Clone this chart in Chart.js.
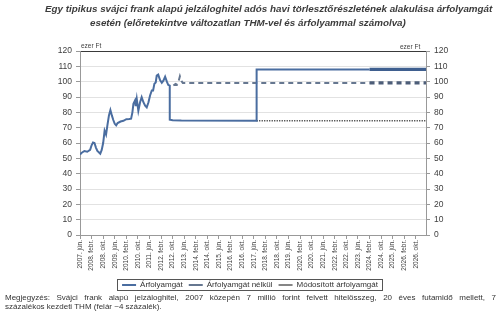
<!DOCTYPE html>
<html><head><meta charset="utf-8">
<script src="https://cdn.jsdelivr.net/npm/chart.js@4.4.0/dist/chart.umd.min.js"></script>
<style>
html,body{margin:0;padding:0;background:#fff;}
#wrap{position:relative;width:500px;height:330px;overflow:hidden;font-family:"Liberation Sans",Arial,sans-serif;}
canvas{position:absolute;left:0;top:0;}
.t{position:absolute;white-space:nowrap;color:#3c3c3c;font-style:italic;font-weight:bold;font-size:10px;line-height:12px;}
.unit{position:absolute;font-size:6.5px;color:#404040;line-height:8px;white-space:nowrap;}
.note{position:absolute;left:5px;width:491px;font-size:8px;line-height:9px;color:#333;white-space:nowrap;}
</style></head><body>
<div id="wrap">
<canvas id="c" width="500" height="330"></canvas>
<div class="t" id="t1" style="left:45px;top:3px">Egy tipikus svájci frank alapú jelzáloghitel adós havi törlesztőrészletének alakulása árfolyamgát</div>
<div class="t" id="t2" style="left:90px;top:17px">esetén (előretekintve változatlan THM-vel és árfolyammal számolva)</div>
<div class="unit" style="left:81px;top:42px">ezer Ft</div>
<div class="unit" style="left:400px;top:43px">ezer Ft</div>
<div class="note" style="top:293px;text-align:justify;text-align-last:justify;white-space:normal">Megjegyzés: Svájci frank alapú jelzáloghitel, 2007 közepén 7 millió forint felvett hitelösszeg, 20 éves futamidő mellett, 7</div>
<div class="note" style="top:302px">százalékos kezdeti THM (felár ~4 százalék).</div>
</div>
<script>
// tick labels (month index from 2007. jún.)
const tickMonths = [0,8,16,24,32,40,48,56,64,72,80,88,96,104,112,120,128,136,144,152,160,168,176,184,192,200,208,216,224,232];
const tickLabels = ['2007. jún.','2008. febr.','2008. okt.','2009. jún.','2010. febr.','2010. okt.','2011. jún.','2012. febr.','2012. okt.','2013. jún.','2014. febr.','2014. okt.','2015. jún.','2016. febr.','2016. okt.','2017. jún.','2018. febr.','2018. okt.','2019. jún.','2020. febr.','2020. okt.','2021. jún.','2022. febr.','2022. okt.','2023. jún.','2024. febr.','2024. okt.','2025. jún.','2026. febr.','2026. okt.'];

// Árfolyamgát (solid)
const gatMonths = [0,1,3,5,7,8,9,10,11,12,13,14,15,16,17,18,19,20,21,22,23,24,25,26,28,30,32,34,35.3,36.2,36.9,38,38.5,39.2,40.3,41.5,42.6,43.8,45,46.1,47.3,48.4,49.6,50.5,51.4,52.3,53,54,55.3,56.5,57.6,58.8,60,61,62,62,64,70,122,122,200,239];
const gatValues = [52.5,53.5,54.8,54.3,55.5,58.5,60.3,60,57,54.8,54,53,55.5,60,68,65.5,72,78,81.5,78,75,72.5,71.5,73,74,74.5,75.5,75.7,75.9,80,85.5,87.7,84,88.8,81,86.6,89.9,86.6,84.4,83.3,86.6,91,94.3,94.3,98.7,99.5,104,104.6,101,99.3,100.6,103.2,100,97.8,97.4,75.2,74.8,74.6,74.5,108,108,108];

// Árfolyamgát nélkül (dashed)
const nelkulMonths = [64.5,66,67,68,69,70,71,200,239];
const nelkulValues = [97.5,98.5,98,100,103.5,100.5,99.2,99.2,99.2];

// Módosított árfolyamgát (dotted)
const modMonths = [122,239];
const modValues = [74.5,74.5];

const yTicks = [0,10,20,30,40,50,60,70,80,90,100,110,120];

Chart.defaults.font.family = '"Liberation Sans", Arial, sans-serif';
const toPts = (xs, ys) => xs.map((x, i) => ({x: x, y: ys[i]}));

function fit(id, w){ const el=document.getElementById(id); const fs=parseFloat(getComputedStyle(el).fontSize); el.style.fontSize=(fs*w/el.offsetWidth)+'px'; }
fit('t1', 448); fit('t2', 316);

const legendBox = {
  id: 'legendBox',
  afterDraw(chart){
    const hb = chart.legend && chart.legend.legendHitBoxes;
    if (!hb || !hb.length) return;
    const l = Math.min(...hb.map(b=>b.left)), r = Math.max(...hb.map(b=>b.left+b.width));
    const t = Math.min(...hb.map(b=>b.top)), bt = Math.max(...hb.map(b=>b.top+b.height));
    const c = chart.ctx; c.save(); c.strokeStyle='#555'; c.lineWidth=1;
    c.strokeRect(Math.round(l-5)+0.5, Math.round(t-2)+0.5, Math.round(r-l+9), Math.round(bt-t+3));
    c.restore();
  }
};

const axisFont = {size: 8.5};
new Chart(document.getElementById('c'), {
  type: 'line',
  data: { datasets: [
    { label:'Árfolyamgát', data: toPts(gatMonths, gatValues), borderColor:'#4a6da0', borderWidth:2, pointRadius:0, tension:0, order:1,
      segment:{ borderWidth: c => c.p0.parsed.x >= 200 ? 3.2 : 2, borderColor: c => c.p0.parsed.x >= 200 ? '#3f5f8f' : '#4a6da0' } },
    { label:'Árfolyamgát nélkül', data: toPts(nelkulMonths, nelkulValues), borderColor:'#667790', borderWidth:2, borderDash:[5,4], pointRadius:0, tension:0, order:2,
      segment:{ borderWidth: c => c.p0.parsed.x >= 200 ? 3.2 : 2, borderColor: c => c.p0.parsed.x >= 200 ? '#4c5d78' : '#667790' } },
    { label:'Módosított árfolyamgát', data: toPts(modMonths, modValues), borderColor:'#444', borderWidth:1.3, borderDash:[1.2,1.3], pointRadius:0, tension:0, order:3 }
  ]},
  options: {
    responsive:false, animation:false, events:[],
    layout:{ padding:{ top:51, left:0, right:0, bottom:31 } },
    scales:{
      x:{ type:'linear', min:0, max:239,
        afterBuildTicks: s => { s.ticks = tickMonths.map(v => ({value:v})); },
        ticks:{ autoSkip:false, minRotation:90, maxRotation:90, font:{size:6.5}, color:'#404040', padding:1,
          callback: (v, i) => tickLabels[tickMonths.indexOf(v)] },
        grid:{ drawOnChartArea:false, tickLength:4, color:'#999' }, border:{ color:'#999' },
        afterFit: s => { s.height = 40; } },
      y:{ position:'left', min:0, max:120,
        afterBuildTicks: s => { s.ticks = yTicks.map(v => ({value:v})); },
        ticks:{ font:axisFont, color:'#404040', padding:4 },
        grid:{ color: c => c.tick && c.tick.value === 120 ? '#3a3a3a' : '#e2e2e2', tickColor:'#999', tickLength:4 },
        border:{ color:'#999' }, afterFit: s => { s.width = 80; } },
      y2:{ position:'right', min:0, max:120,
        afterBuildTicks: s => { s.ticks = yTicks.map(v => ({value:v})); },
        ticks:{ font:axisFont, color:'#404040', padding:4 },
        grid:{ drawOnChartArea:false, tickLength:4, color:'#999' },
        border:{ color:'#999' }, afterFit: s => { s.width = 74; } }
    },
    plugins:{
      legend:{ position:'bottom', labels:{ usePointStyle:true, pointStyle:'line', pointStyleWidth:14, boxHeight:8, font:{size:8}, color:'#333', padding:6 } },
      tooltip:{ enabled:false }
    }
  },
  plugins:[legendBox]
});
</script>
</body></html>
